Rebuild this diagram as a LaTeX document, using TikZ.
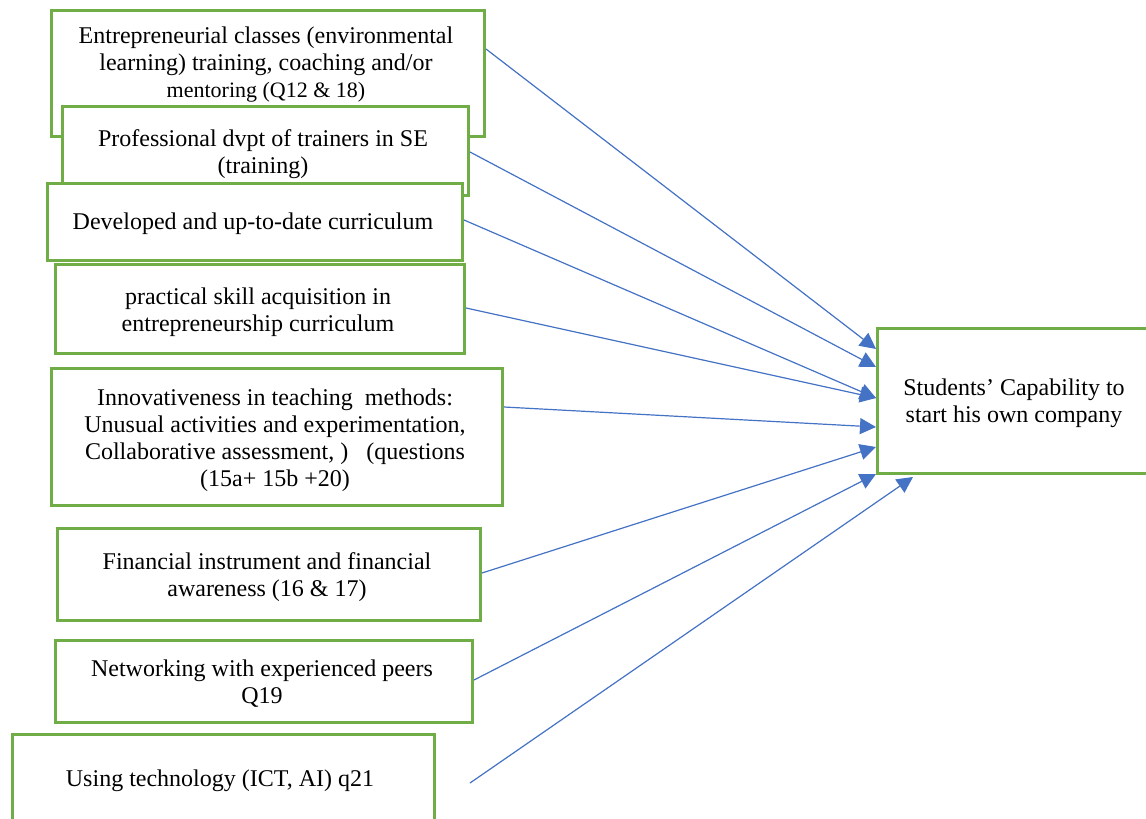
\documentclass[tikz,border=0pt]{standalone}
\usepackage{fontspec}
\setmainfont{Liberation Serif}
\usetikzlibrary{arrows.meta,calc}
\definecolor{boxgreen}{HTML}{70AD47}
\definecolor{arrblue}{HTML}{4472C4}
\begin{document}
\begin{tikzpicture}[x=0.5pt,y=-0.5pt,
 box/.style={draw=boxgreen,line width=1.5pt,fill=white,anchor=north west,inner sep=0pt},
 txt/.style={align=center,font=\fontsize{12}{13.5}\selectfont,inner sep=0pt},
 arr/.style={draw=arrblue,line width=0.6pt,-{Triangle[length=8pt,width=8pt]}}]
\clip (0,0) rectangle (1146,819);
\fill[white] (0,0) rectangle (1146,819);

\node[box,minimum width=216.5pt,minimum height=63pt] (b1) at (50,9) {};
\node[txt] (t1) at (266,65) {Entrepreneurial classes (environmental\\learning) training, coaching and/or\\{\fontsize{11}{13.5}\selectfont mentoring (Q12 \& 18)}};

\node[box,minimum width=203pt,minimum height=44.5pt] (b2) at (61,105) {};
\node[txt] (t2) at (263,154) {Professional dvpt of trainers in SE\\(training)};

\node[box,minimum width=207.5pt,minimum height=38.5pt] (b3) at (46,182) {};
\node[txt] (t3) at (253,224) {Developed and up-to-date curriculum};

\node[box,minimum width=204.5pt,minimum height=44.5pt] (b4) at (54,263) {};
\node[txt] (t4) at (258,312) {practical skill acquisition in\\entrepreneurship curriculum};

\node[box,minimum width=225.5pt,minimum height=68.5pt] (b5) at (50,367) {};
\node[txt] (t5) at (275,440) {Innovativeness in teaching\ \ methods:\\Unusual activities and experimentation,\\Collaborative assessment, )\ \ \ (questions\\(15a+ 15b +20)};

\node[box,minimum width=211.5pt,minimum height=46pt] (b6) at (56,527) {};
\node[txt] (t6) at (267,577) {Financial instrument and financial\\awareness (16 \& 17)};

\node[box,minimum width=208.5pt,minimum height=41pt] (b7) at (54,639) {};
\node[txt] (t7) at (262,684) {Networking with experienced peers\\Q19};

\node[box,minimum width=211pt,minimum height=50pt] (b8) at (11,733) {};
\node[txt] (t8) at (220,781) {Using technology (ICT, AI) q21};

\node[box,minimum width=150pt,minimum height=72.5pt] (T) at (876,327) {};
\node[txt] (tT) at (1014,403) {Students’ Capability to\\start his own company};

\coordinate (s8) at (470,783);
\coordinate (e8) at (913,477);

\draw[arr] (b1.east |- 0,49) -- (T.west |- 0,349);
\draw[arr] (b2.east |- 0,152) -- (T.west |- 0,367);
\draw[arr] (b3.east |- 0,220) -- (T.west |- 0,398);
\draw[arr] (b4.east |- 0,308) -- (T.west |- 0,398);
\draw[arr] (b5.east |- 0,407) -- (T.west |- 0,427);
\draw[arr] (b6.east |- 0,573) -- (T.west |- 0,447);
\draw[arr] (b7.east |- 0,680) -- (T.west |- 0,474);
\draw[arr] (s8) -- (e8);
\end{tikzpicture}
\end{document}
